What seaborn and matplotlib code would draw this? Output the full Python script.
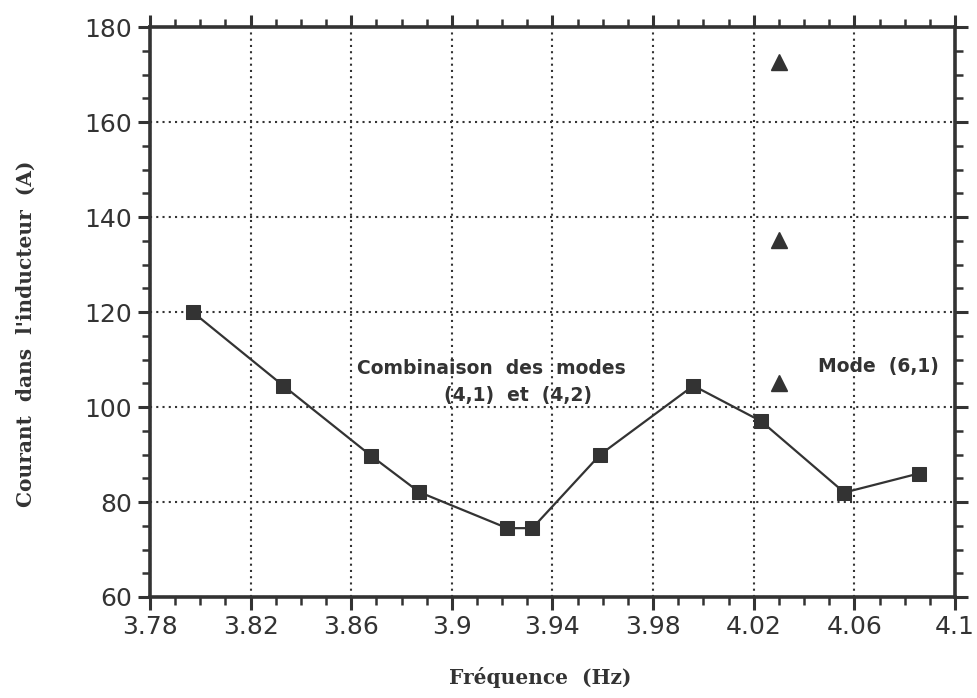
import matplotlib
matplotlib.use("Agg")
import matplotlib.pyplot as plt
from matplotlib.ticker import MultipleLocator, FixedLocator, FixedFormatter
import seaborn as sns
import pandas as pd

# Data
freq_comb = [3.797, 3.833, 3.868, 3.887, 3.922, 3.932, 3.959, 3.996, 4.023, 4.056, 4.0855]
current_comb = [120, 104.5, 89.7, 82.1, 74.5, 74.5, 90, 104.5, 97, 82, 86]
freq_mode61 = [4.030, 4.030, 4.030]
current_mode61 = [172.7, 135.2, 105]
xticks = [3.78, 3.82, 3.86, 3.9, 3.94, 3.98, 4.02, 4.06, 4.1]
xticklabels = ["3.78", "3.82", "3.86", "3.9", "3.94", "3.98", "4.02", "4.06", "4.1"]
yticks = [60, 80, 100, 120, 140, 160, 180]
xlabel = "Fréquence  (Hz)"
ylabel = "Courant  dans  l'inducteur  (A)"
note_comb_1 = "Combinaison  des  modes"
note_comb_2 = "(4,1)  et  (4,2)"
note_mode = "Mode  (6,1)"

df_comb = pd.DataFrame({"f": freq_comb, "I": current_comb})
df_mode = pd.DataFrame({"f": freq_mode61, "I": current_mode61})

sns.set_style("white")
plt.rcParams["font.family"] = ["DejaVu Sans"]
ink = "#333333"

fig = plt.figure(figsize=(9.77, 6.98), dpi=100)
ax = fig.add_axes([0.1535, 0.1447, 0.824, 0.8163])

sns.lineplot(data=df_comb, x="f", y="I", ax=ax, color=ink, linewidth=1.6,
             marker="s", markersize=10.5, markeredgecolor=ink, markerfacecolor=ink,
             sort=False, estimator=None)
ax.plot(df_mode["f"], df_mode["I"], linestyle="none", marker="^", markersize=11,
        color=ink, markeredgecolor=ink)

ax.set_xlim(3.78, 4.1)
ax.set_ylim(60, 180)
ax.xaxis.set_major_locator(FixedLocator(xticks))
ax.xaxis.set_major_formatter(FixedFormatter(xticklabels))
ax.xaxis.set_minor_locator(MultipleLocator(0.01))
ax.yaxis.set_major_locator(FixedLocator(yticks))
ax.yaxis.set_minor_locator(MultipleLocator(5))

for s in ax.spines.values():
    s.set_visible(True)
    s.set_color(ink)
    s.set_linewidth(2.6)

ax.tick_params(which="both", direction="out", color=ink, top=True, right=True,
               bottom=True, left=True, labeltop=False, labelright=False)
ax.tick_params(which="major", length=9, width=2.2, labelsize=18, labelcolor=ink, pad=4)
ax.tick_params(which="minor", length=5.5, width=1.8)

ax.grid(True, which="major", linestyle=(0, (1, 2)), color=ink, linewidth=1.5)
ax.set_axisbelow(True)

lab_font = dict(family="DejaVu Serif", weight="bold", size=14.5, color=ink)
ax.set_xlabel("")
ax.set_ylabel("")
fig.text(0.553, 0.030, xlabel, ha="center", va="center", **lab_font)
fig.text(0.026, 0.5215, ylabel, rotation=90, ha="center", va="center", **lab_font)

note_font = dict(fontsize=13.5, fontweight="bold", color=ink, va="center", ha="center")
ax.text(3.9156, 108.2, note_comb_1, **note_font)
ax.text(3.9263, 102.4, note_comb_2, **note_font)
ax.text(4.0697, 108.6, note_mode, **note_font)

fig.savefig("out.png", dpi=100)
